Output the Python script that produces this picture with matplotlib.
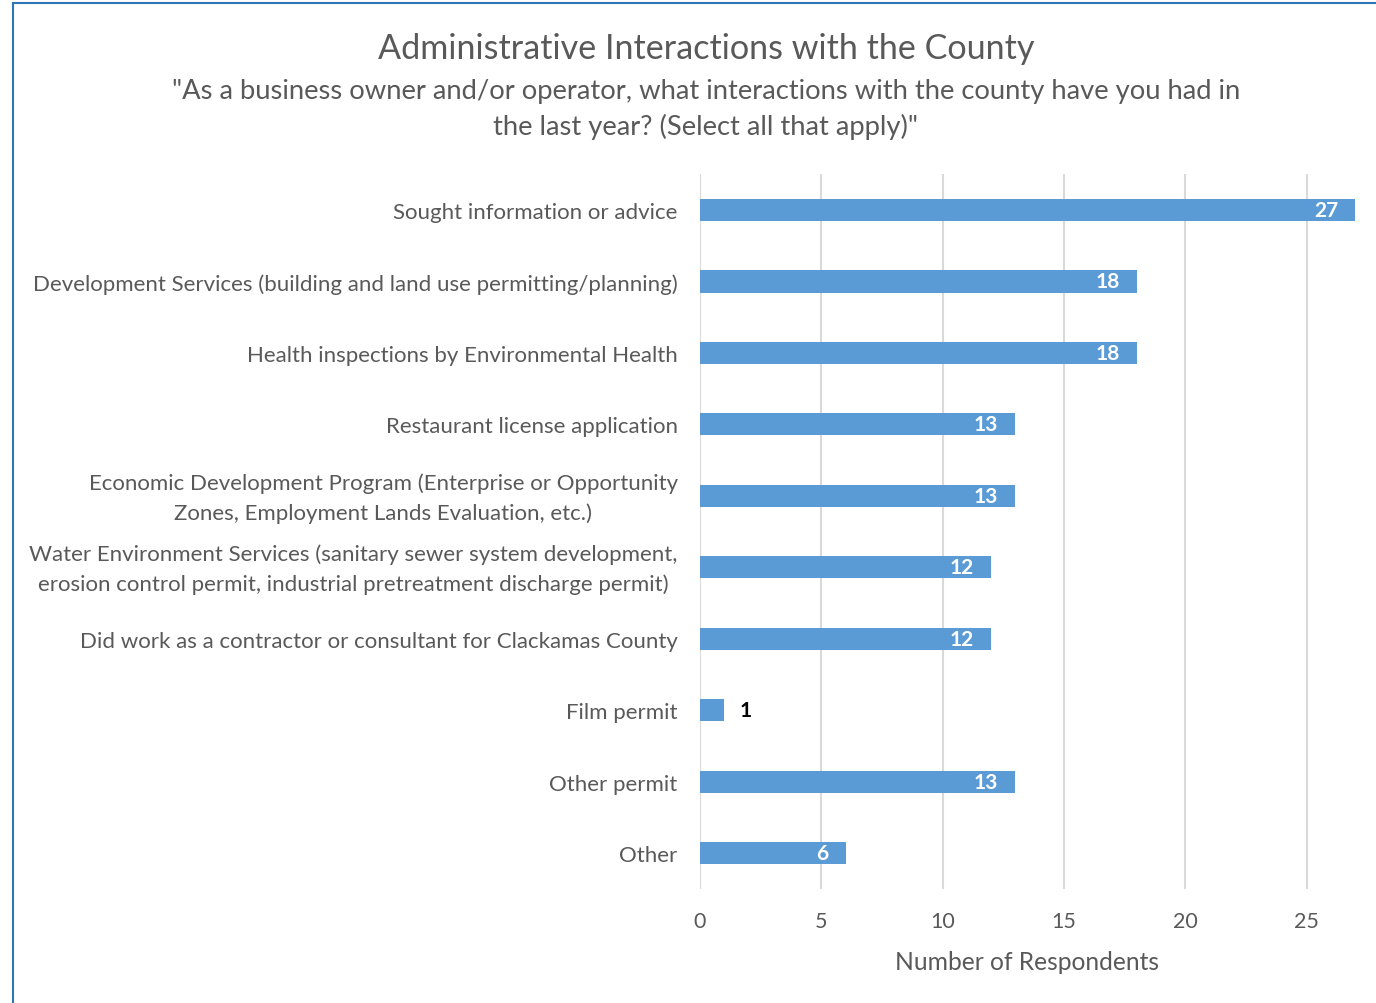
import matplotlib.pyplot as plt
import matplotlib.transforms as mtransforms
from matplotlib.patches import Rectangle

plt.rcParams['font.family'] = ['Lato', 'DejaVu Sans']

categories = [
    'Sought information or advice',
    'Development Services (building and land use permitting/planning)',
    'Health inspections by Environmental Health',
    'Restaurant license application',
    'Economic Development Program (Enterprise or Opportunity\nZones, Employment Lands Evaluation, etc.)',
    'Water Environment Services (sanitary sewer system development,\nerosion control permit, industrial pretreatment discharge permit)',
    'Did work as a contractor or consultant for Clackamas County',
    'Film permit',
    'Other permit',
    'Other',
]
counts = [27, 18, 18, 13, 13, 12, 12, 1, 13, 6]
ticks = [0, 5, 10, 15, 20, 25]

bar_color = '#5b9bd5'
text_color = '#595959'

fig = plt.figure(figsize=(13.76, 10.04), dpi=100)
ax = fig.add_axes([0.5087, 0.1135, 0.529, 0.712])

y = list(range(len(categories)))
ax.barh(y, counts, height=0.31, color=bar_color, zorder=3)
ax.set_ylim(len(categories) - 0.5, -0.5)
ax.set_xlim(0, 30)

for yi, v in zip(y, counts):
    if v > 2:
        ax.text(v - 0.7, yi, str(v), ha='right', va='center', color='white',
                fontsize=15, fontweight='bold', zorder=4)
    else:
        ax.text(v + 0.65, yi, str(v), ha='left', va='center', color='black',
                fontsize=15, fontweight='bold', zorder=4)

ax.set_yticks(y)
ax.set_yticklabels(categories, fontsize=16, color=text_color, ha='right',
                   multialignment='center', linespacing=1.55)
ax.tick_params(axis='y', length=0, pad=16)
# two-line labels sit a little higher
shift = mtransforms.ScaledTranslation(0, 5 / 100, fig.dpi_scale_trans)
for lab in ax.get_yticklabels():
    if '\n' in lab.get_text():
        lab.set_transform(lab.get_transform() + shift)
ax.set_xticks(ticks)
ax.tick_params(axis='x', length=0, labelsize=15.5, labelcolor=text_color, pad=16)
ax.grid(axis='x', color='#d9d9d9', linewidth=1.5, zorder=0)
for s in ax.spines.values():
    s.set_visible(False)
ax.set_xlabel('Number of Respondents', fontsize=17.7, color=text_color)
ax.xaxis.set_label_coords(0.449, -0.085)

fig.text(0.513, 0.951, 'Administrative Interactions with the County',
         ha='center', va='center', fontsize=24.6, color=text_color)
fig.text(0.513, 0.891,
         '"As a business owner and/or operator, what interactions with the county have you had in\nthe last year? (Select all that apply)"',
         ha='center', va='center', fontsize=19.7, color=text_color,
         linespacing=1.43)

# chart frame
fig.patches.append(Rectangle((0.0094, -0.05), 1.1, 1.046, transform=fig.transFigure,
                             fill=False, edgecolor='#2e75b6', linewidth=1.5))

fig.savefig('out.png', dpi=100, facecolor='white')
